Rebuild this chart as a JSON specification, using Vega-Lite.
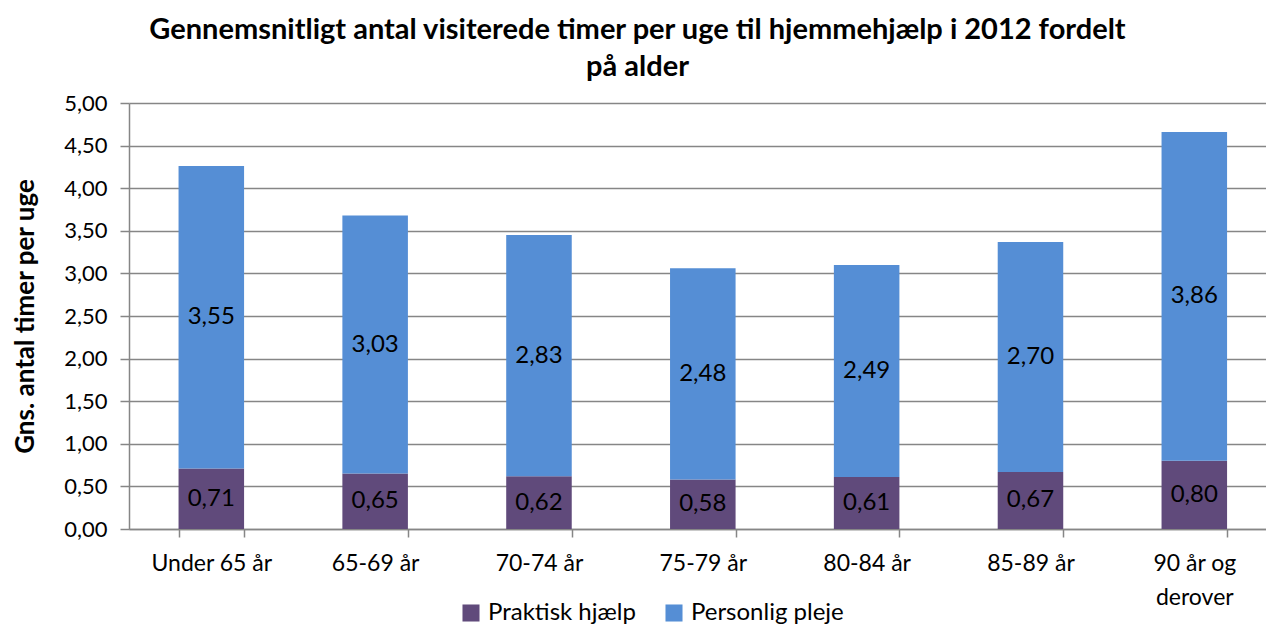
{
  "$schema": "https://vega.github.io/schema/vega-lite/v6.json",
  "autosize": {"type": "none"},
  "padding": {"left": 129, "top": 103, "right": 0, "bottom": 95},
  "width": 1137,
  "height": 426,
  "background": "white",
  "config": {
    "locale": {"number": {"decimal": ",", "thousands": ".", "grouping": [3], "currency": ["", " kr"]}},
    "font": "Lato",
    "view": {"stroke": null}
  },
  "title": {
    "text": ["Gennemsnitligt antal visiterede timer per uge til hjemmehjælp i 2012 fordelt", "på alder"],
    "fontSize": 29,
    "fontWeight": "bold",
    "font": "Lato",
    "color": "#000000",
    "anchor": "middle",
    "frame": "group",
    "dx": -60,
    "lineHeight": 37,
    "offset": 10
  },
  "data": {
    "values": [
      {"alder": "Under 65 år", "type": "Praktisk hjælp", "timer": 0.71},
      {"alder": "Under 65 år", "type": "Personlig pleje", "timer": 3.55},
      {"alder": "65-69 år", "type": "Praktisk hjælp", "timer": 0.65},
      {"alder": "65-69 år", "type": "Personlig pleje", "timer": 3.03},
      {"alder": "70-74 år", "type": "Praktisk hjælp", "timer": 0.62},
      {"alder": "70-74 år", "type": "Personlig pleje", "timer": 2.83},
      {"alder": "75-79 år", "type": "Praktisk hjælp", "timer": 0.58},
      {"alder": "75-79 år", "type": "Personlig pleje", "timer": 2.48},
      {"alder": "80-84 år", "type": "Praktisk hjælp", "timer": 0.61},
      {"alder": "80-84 år", "type": "Personlig pleje", "timer": 2.49},
      {"alder": "85-89 år", "type": "Praktisk hjælp", "timer": 0.67},
      {"alder": "85-89 år", "type": "Personlig pleje", "timer": 2.70},
      {"alder": "90 år og derover", "type": "Praktisk hjælp", "timer": 0.80},
      {"alder": "90 år og derover", "type": "Personlig pleje", "timer": 3.86}
    ]
  },
  "transform": [
    {"calculate": "datum.type == 'Praktisk hjælp' ? 0 : 1", "as": "ord"},
    {"stack": "timer", "groupby": ["alder"], "sort": [{"field": "ord", "order": "ascending"}], "as": ["y0", "y1"]},
    {"calculate": "(datum.y0 + datum.y1) / 2", "as": "ymid"}
  ],
  "encoding": {
    "x": {
      "field": "alder",
      "type": "nominal",
      "sort": null,
      "scale": {"paddingInner": 0.6, "paddingOuter": 0.27, "align": 0.56},
      "axis": {
        "title": null,
        "labelAngle": 0,
        "labelFontSize": 23,
        "labelColor": "#000000",
        "labelFont": "Lato",
        "labelPadding": 15,
        "labelLineHeight": 34,
        "labelExpr": "datum.label == '90 år og derover' ? ['90 år og', 'derover'] : datum.label",
        "tickBand": "extent",
        "tickSize": 8,
        "tickColor": "#868686",
        "domainColor": "#868686",
        "domainWidth": 1.5,
        "tickWidth": 1.5,
        "grid": false
      }
    }
  },
  "layer": [
    {
      "mark": {"type": "bar"},
      "encoding": {
        "y": {
          "field": "y0",
          "type": "quantitative",
          "scale": {"domain": [0, 5]},
          "axis": {
            "title": "Gns. antal timer per uge",
            "titleFontSize": 26,
            "titleFontWeight": "bold",
            "titleFont": "Lato",
            "titleColor": "#000000",
            "titlePadding": 25,
            "values": [0, 0.5, 1, 1.5, 2, 2.5, 3, 3.5, 4, 4.5, 5],
            "format": ".2f",
            "labelFontSize": 22,
            "labelColor": "#000000",
            "labelFont": "Lato",
            "labelPadding": 13,
            "tickSize": 9,
            "tickColor": "#868686",
            "tickWidth": 1.5,
            "domainColor": "#868686",
            "domainWidth": 1.5,
            "grid": true,
            "gridColor": "#868686",
            "gridWidth": 1.5
          }
        },
        "y2": {"field": "y1"},
        "color": {
          "field": "type",
          "type": "nominal",
          "scale": {"domain": ["Praktisk hjælp", "Personlig pleje"], "range": ["#604A7B", "#558ED5"]},
          "legend": {
            "title": null,
            "orient": "none",
            "direction": "horizontal",
            "legendX": 330,
            "legendY": 498,
            "symbolType": "square",
            "symbolSize": 290,
            "symbolStrokeWidth": 0,
            "labelFontSize": 24,
            "labelFont": "Lato",
            "labelColor": "#000000",
            "labelOffset": 5,
            "columnPadding": 26
          }
        }
      }
    },
    {
      "mark": {"type": "text", "fontSize": 24, "font": "Lato", "color": "#000000", "baseline": "middle"},
      "encoding": {
        "y": {"field": "ymid", "type": "quantitative"},
        "text": {"field": "timer", "type": "quantitative", "format": ".2f"}
      }
    }
  ]
}
